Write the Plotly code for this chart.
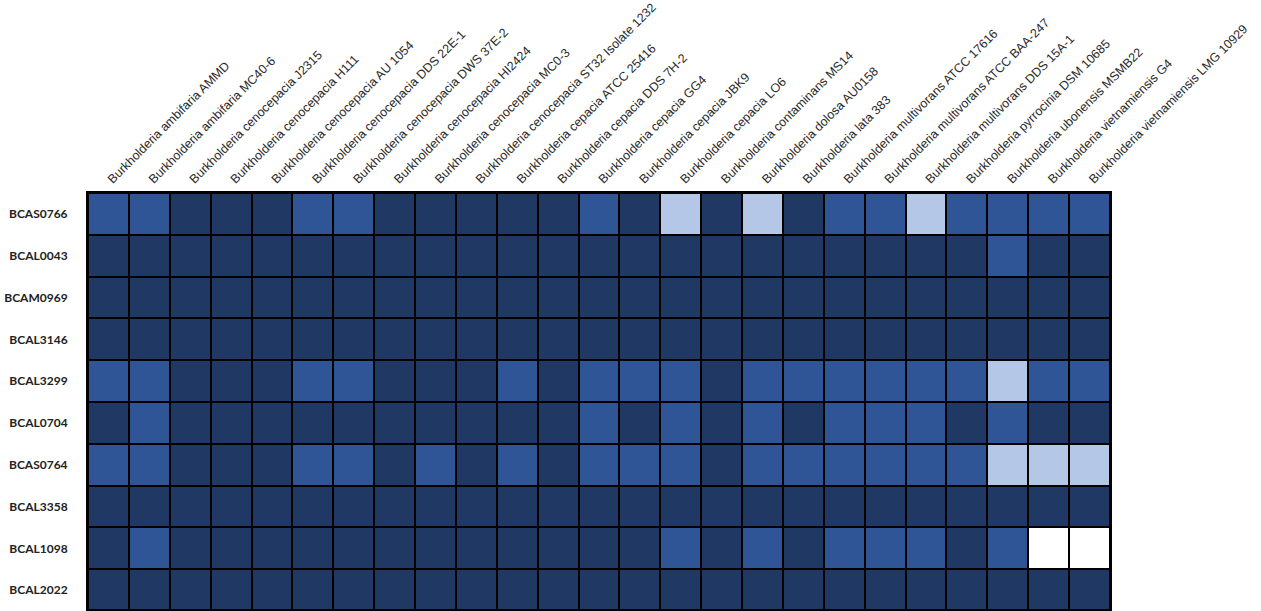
import plotly.graph_objects as go

# Strains (columns) and genes (rows)
strains = [
    "Burkholderia ambifaria AMMD",
    "Burkholderia ambifaria MC40-6",
    "Burkholderia cenocepacia J2315",
    "Burkholderia cenocepacia H111",
    "Burkholderia cenocepacia AU 1054",
    "Burkholderia cenocepacia DDS 22E-1",
    "Burkholderia cenocepacia DWS 37E-2",
    "Burkholderia cenocepacia HI2424",
    "Burkholderia cenocepacia MC0-3",
    "Burkholderia cenocepacia ST32 Isolate 1232",
    "Burkholderia cepacia ATCC 25416",
    "Burkholderia cepacia DDS 7H-2",
    "Burkholderia cepacia GG4",
    "Burkholderia cepacia JBK9",
    "Burkholderia cepacia LO6",
    "Burkholderia contaminans MS14",
    "Burkholderia dolosa AU0158",
    "Burkholderia lata 383",
    "Burkholderia multivorans ATCC 17616",
    "Burkholderia multivorans ATCC BAA-247",
    "Burkholderia multivorans DDS 15A-1",
    "Burkholderia pyrrocinia DSM 10685",
    "Burkholderia ubonensis MSMB22",
    "Burkholderia vietnamiensis G4",
    "Burkholderia vietnamiensis LMG 10929",
]

genes = ["BCAS0766", "BCAL0043", "BCAM0969", "BCAL3146", "BCAL3299",
         "BCAL0704", "BCAS0764", "BCAL3358", "BCAL1098", "BCAL2022"]

# Conservation level per gene and strain: 3 = high, 2 = medium, 1 = low, 0 = absent
BCAS0766 = [2, 2, 3, 3, 3, 2, 2, 3, 3, 3, 3, 3, 2, 3, 1, 3, 1, 3, 2, 2, 1, 2, 2, 2, 2]
BCAL0043 = [3, 3, 3, 3, 3, 3, 3, 3, 3, 3, 3, 3, 3, 3, 3, 3, 3, 3, 3, 3, 3, 3, 2, 3, 3]
BCAM0969 = [3, 3, 3, 3, 3, 3, 3, 3, 3, 3, 3, 3, 3, 3, 3, 3, 3, 3, 3, 3, 3, 3, 3, 3, 3]
BCAL3146 = [3, 3, 3, 3, 3, 3, 3, 3, 3, 3, 3, 3, 3, 3, 3, 3, 3, 3, 3, 3, 3, 3, 3, 3, 3]
BCAL3299 = [2, 2, 3, 3, 3, 2, 2, 3, 3, 3, 2, 3, 2, 2, 2, 3, 2, 2, 2, 2, 2, 2, 1, 2, 2]
BCAL0704 = [3, 2, 3, 3, 3, 3, 3, 3, 3, 3, 3, 3, 2, 3, 2, 3, 2, 3, 2, 2, 2, 3, 2, 3, 3]
BCAS0764 = [2, 2, 3, 3, 3, 2, 2, 3, 2, 3, 2, 3, 2, 2, 2, 3, 2, 2, 2, 2, 2, 2, 1, 1, 1]
BCAL3358 = [3, 3, 3, 3, 3, 3, 3, 3, 3, 3, 3, 3, 3, 3, 3, 3, 3, 3, 3, 3, 3, 3, 3, 3, 3]
BCAL1098 = [3, 2, 3, 3, 3, 3, 3, 3, 3, 3, 3, 3, 3, 3, 2, 3, 2, 3, 2, 2, 2, 3, 2, 0, 0]
BCAL2022 = [3, 3, 3, 3, 3, 3, 3, 3, 3, 3, 3, 3, 3, 3, 3, 3, 3, 3, 3, 3, 3, 3, 3, 3, 3]

levels = [BCAS0766, BCAL0043, BCAM0969, BCAL3146, BCAL3299,
          BCAL0704, BCAS0764, BCAL3358, BCAL1098, BCAL2022]

# Discrete colour bands for the four levels
band_colors = ["#ffffff", "#b4c7e7", "#2f5597", "#203864"]
colorscale = []
for i, c in enumerate(band_colors):
    colorscale.append([i / 4, c])
    colorscale.append([(i + 1) / 4, c])

fig = go.Figure(
    go.Heatmap(
        z=levels,
        x=list(range(len(strains))),
        y=list(range(len(genes))),
        zmin=0,
        zmax=4,
        colorscale=colorscale,
        showscale=False,
        xgap=2,
        ygap=2,
        hoverinfo="skip",
    )
)

fig.update_layout(
    width=1261,
    height=611,
    margin=dict(l=88, r=151, t=193, b=0, pad=0),
    paper_bgcolor="white",
    plot_bgcolor="black",
    showlegend=False,
)

fig.update_xaxes(
    side="top",
    tickmode="array",
    tickvals=list(range(len(strains))),
    ticktext=strains,
    tickangle=-45,
    tickfont=dict(family="Liberation Sans, Arial", size=12.5, color="#2a2a2a"),
    showgrid=False,
    zeroline=False,
    ticks="",
    range=[-0.5, len(strains) - 0.5],
    showline=True,
    linecolor="black",
    linewidth=2,
    mirror=True,
)

fig.update_yaxes(
    tickmode="array",
    tickvals=list(range(len(genes))),
    ticktext=genes,
    tickfont=dict(family="Lato", size=12, color="#222222", weight="bold"),
    showgrid=False,
    zeroline=False,
    ticks="",
    ticklabelstandoff=16,
    range=[9.45, -0.5],
    showline=True,
    linecolor="black",
    linewidth=2,
    mirror=True,
)

fig.write_html("out.html")
